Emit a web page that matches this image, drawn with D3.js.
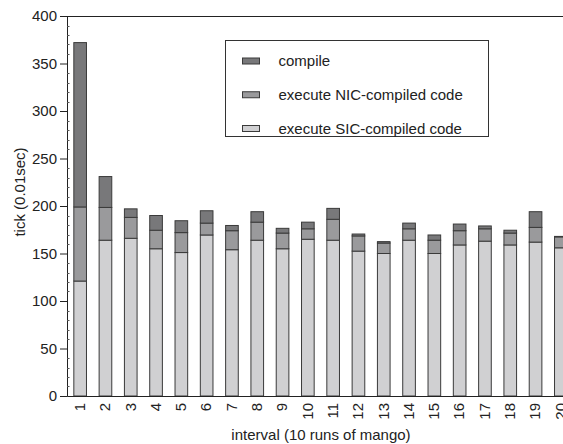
<!DOCTYPE html>
<html>
<head>
<meta charset="utf-8">
<script src="https://cdn.jsdelivr.net/npm/d3@7"></script>
<style>
  body { margin: 0; background: #fff; }
  svg { display: block; font-family: "Liberation Sans", Arial, sans-serif; }
</style>
</head>
<body>
<div id="chart"></div>
<script>
// intervals (10 runs of mango each)
const intervals = d3.range(1, 21).map(String);

// stacked values (tick = 0.01 sec)
const sicExec = [121, 164, 166, 155, 151, 169.5, 154, 164, 155, 165,
                 164, 152.5, 150, 164, 150, 159, 163, 159, 162, 156];
const nicExec = [78, 34.5, 22, 19.5, 21, 12.5, 20, 19, 16.5, 11,
                 22, 16, 11, 12, 14, 15, 13, 12.5, 15.5, 11.5];
const compile = [173, 32.5, 9, 15.5, 12.5, 13, 5.5, 11, 5, 7,
                 11.5, 2, 1.5, 6, 5.5, 7, 3, 3, 16.5, 0.5];

const seriesNames = ['execute SIC-compiled code', 'execute NIC-compiled code', 'compile'];
const seriesColors = ['#d0d0d2', '#9a9a9c', '#78787a'];
const yTicks = [0, 50, 100, 150, 200, 250, 300, 350, 400];

const width = 563, height = 444;
const margin = { top: 16, right: -10, bottom: 48, left: 67 };

const svg = d3.select('#chart').append('svg')
  .attr('width', width)
  .attr('height', height);

const x = d3.scaleBand()
  .domain(intervals)
  .range([margin.left, width - margin.right])
  .paddingInner(0.5)
  .paddingOuter(0.25);

const y = d3.scaleLinear()
  .domain([0, 400])
  .range([height - margin.bottom, margin.top]);

const table = intervals.map((k, i) => ({
  key: k,
  'execute SIC-compiled code': sicExec[i],
  'execute NIC-compiled code': nicExec[i],
  'compile': compile[i]
}));

const stack = d3.stack().keys(seriesNames);
const layers = stack(table);

// bars
svg.append('g')
  .selectAll('g')
  .data(layers)
  .join('g')
  .attr('fill', (d, i) => seriesColors[i])
  .selectAll('rect')
  .data(d => d)
  .join('rect')
  .attr('x', d => x(d.data.key) + 0.5)
  .attr('y', d => y(d[1]))
  .attr('width', x.bandwidth())
  .attr('height', d => y(d[0]) - y(d[1]))
  .attr('stroke', '#3a3a3a')
  .attr('stroke-width', 1);

// top frame line
svg.append('line')
  .attr('x1', margin.left).attr('x2', width - margin.right)
  .attr('y1', y(400) + 0.5).attr('y2', y(400) + 0.5)
  .attr('stroke', '#222');

// y axis
svg.append('g')
  .attr('transform', `translate(${margin.left},0)`)
  .call(d3.axisLeft(y).tickValues(yTicks).tickSize(7).tickPadding(3))
  .call(g => g.select('.domain').attr('stroke', '#222'))
  .call(g => g.selectAll('.tick line').attr('stroke', '#222'))
  .call(g => g.selectAll('.tick text')
    .attr('font-size', 15).attr('fill', '#222').attr('font-family', null));

// minor ticks on y axis, pointing inward
svg.append('g')
  .selectAll('line')
  .data(d3.range(0, 401, 10).filter(v => v % 50 !== 0))
  .join('line')
  .attr('x1', margin.left).attr('x2', margin.left + 2.5)
  .attr('y1', d => Math.round(y(d)) + 0.5).attr('y2', d => Math.round(y(d)) + 0.5)
  .attr('stroke', '#555');

// x axis
svg.append('g')
  .attr('transform', `translate(0,${height - margin.bottom})`)
  .call(d3.axisBottom(x).tickSize(0).tickPadding(0))
  .call(g => g.select('.domain').attr('stroke', '#222'))
  .call(g => g.selectAll('.tick text')
    .attr('font-size', 15).attr('fill', '#222').attr('font-family', null)
    .attr('transform', 'rotate(-90)')
    .attr('text-anchor', 'end')
    .attr('x', -7)
    .attr('y', 0)
    .attr('dy', '0.35em'));

// axis titles
svg.append('text')
  .attr('transform', 'translate(25,192) rotate(-90)')
  .attr('text-anchor', 'middle')
  .attr('font-size', 15)
  .attr('fill', '#222')
  .text('tick (0.01sec)');

svg.append('text')
  .attr('x', 321)
  .attr('y', 440)
  .attr('text-anchor', 'middle')
  .attr('font-size', 15)
  .attr('fill', '#222')
  .text('interval (10 runs of mango)');

// legend
const legend = svg.append('g').attr('transform', 'translate(225.5,40.5)');
legend.append('rect')
  .attr('width', 263).attr('height', 96)
  .attr('fill', '#fff').attr('stroke', '#333');

const legendItems = seriesNames.slice().reverse();
const legendColors = seriesColors.slice().reverse();
const legendRow = d3.scalePoint().domain(legendItems).range([20.5, 88]);

legend.selectAll('rect.sw')
  .data(legendItems)
  .join('rect')
  .attr('class', 'sw')
  .attr('x', 17).attr('y', d => legendRow(d) - 3)
  .attr('width', 17).attr('height', 6)
  .attr('fill', (d, i) => legendColors[i])
  .attr('stroke', '#3a3a3a');

legend.selectAll('text')
  .data(legendItems)
  .join('text')
  .attr('x', 53)
  .attr('y', d => legendRow(d))
  .attr('dy', '0.35em')
  .attr('font-size', 15)
  .attr('fill', '#222')
  .text(d => d);
</script>
</body>
</html>
